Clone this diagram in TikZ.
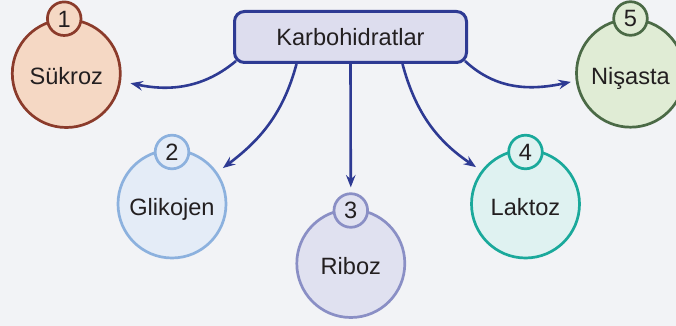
\documentclass[tikz,border=0pt]{standalone}
\usepackage{fontspec}
\setmainfont{Liberation Sans}
\usetikzlibrary{arrows.meta}
\definecolor{bgcol}{HTML}{F2F3F6}
\definecolor{txtcol}{HTML}{231F20}
\definecolor{linkcol}{HTML}{2E3A93}
\definecolor{boxfill}{HTML}{DDDDEE}
\definecolor{sukfill}{HTML}{F5D8C4}
\definecolor{sukline}{HTML}{8B3B2B}
\definecolor{glifill}{HTML}{E4ECF7}
\definecolor{gliline}{HTML}{8CB1DE}
\definecolor{ribfill}{HTML}{E0E1F0}
\definecolor{ribline}{HTML}{8A8FC5}
\definecolor{lakfill}{HTML}{DFF2F1}
\definecolor{lakline}{HTML}{1AA99B}
\definecolor{nisfill}{HTML}{E0ECD5}
\definecolor{nisline}{HTML}{4B6A46}
\begin{document}
\begin{tikzpicture}[x=.5pt,y=.5pt,
  every node/.style={font=\fontsize{11.8}{14}\selectfont,text=txtcol},
  big/.style={circle,line width=1.35pt,minimum size=54pt,inner sep=0pt,text height=11.4pt,text depth=0pt},
  num/.style={circle,line width=1.35pt,minimum size=16.8pt,inner sep=0pt,text height=8.4pt,text depth=0pt},
  link/.style={-{Stealth[length=6.2pt,width=4.8pt,inset=2.2pt]},line width=1.3pt,draw=linkcol}]
  \useasboundingbox (0,0) rectangle (676,-326);
  \fill[bgcol] (0,0) rectangle (676,-326);
  \clip (0,0) rectangle (676,-326);

  \node[big,draw=sukline,fill=sukfill] (suk) at (66.3,-73.5) {Sükroz};
  \node[num,draw=sukline,fill=sukfill] (n1) at (64.2,-18.7) {1};
  \node[big,draw=gliline,fill=glifill] (gli) at (172,-204) {Glikojen};
  \node[num,draw=gliline,fill=glifill] (n2) at (172,-152) {2};
  \node[big,draw=ribline,fill=ribfill] (rib) at (350.8,-263.5) {Riboz};
  \node[num,draw=ribline,fill=ribfill] (n3) at (350.8,-210.5) {3};
  \node[big,draw=lakline,fill=lakfill] (lak) at (525.5,-204) {Laktoz};
  \node[num,draw=lakline,fill=lakfill] (n4) at (525.5,-152) {4};
  \node[big,draw=nisline,fill=nisfill] (nis) at (630.5,-73.2) {Nişasta};
  \node[num,draw=nisline,fill=nisfill] (n5) at (630.5,-18.5) {5};

  \node[draw=linkcol,fill=boxfill,line width=1.5pt,rounded corners=5pt,
        minimum width=116pt,minimum height=25.5pt] (karb) at (350.5,-37) {Karbohidratlar};

  \draw[link,shorten >=4.8pt] ([xshift=1.5pt,yshift=1.5pt]karb.south west) to[out=220,in=-12] (suk.-8);
  \draw[link,shorten >=3.5pt] ([xshift=-27pt]karb.south) to[out=-105,in=37] (gli.35);
  \draw[link,shorten >=2.5pt] (karb.south) -- (n3.north);
  \draw[link,shorten >=3.2pt] ([xshift=26pt]karb.south) to[out=-75,in=146] (lak.143);
  \draw[link,shorten >=2.5pt] ([xshift=-1.5pt,yshift=1.5pt]karb.south east) to[out=-43,in=192] (nis.188);
\end{tikzpicture}
\end{document}
